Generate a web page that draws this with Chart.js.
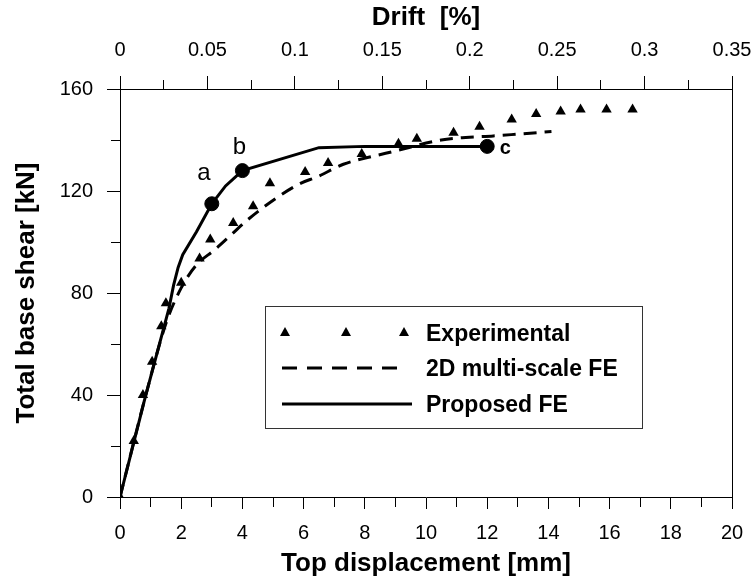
<!DOCTYPE html>
<html>
<head>
<meta charset="utf-8">
<script src="https://cdn.jsdelivr.net/npm/chart.js@4"></script>
<style>
  body { margin: 0; background: #fff; }
  #wrap { width: 756px; height: 582px; }
</style>
</head>
<body>
<div id="wrap"><canvas id="chart" width="756" height="582"></canvas></div>
<script>
// ================= DATA =================
// top displacement [mm] / total base shear [kN]
const expX = [0, 0.45, 0.75, 1.05, 1.35, 1.5, 2.0, 2.6, 2.95, 3.7, 4.35, 4.9, 6.05, 6.8, 7.9, 9.1, 9.7, 10.9, 11.75, 12.8, 13.6, 14.4, 15.05, 15.9, 16.75];
const expY = [0, 22, 40, 53, 67, 76, 84, 93.5, 101, 107.5, 114, 123, 127.5, 131, 134.5, 138.5, 140.5, 142.8, 145.2, 148, 150.2, 151.2, 152, 152, 152];

const msX = [0, 0.8, 1.5, 2.0, 2.5, 3.1, 3.65, 4.15, 5.2, 5.9, 6.45, 7.3, 8.3, 8.9, 10.5, 11.3, 12.2, 13.0, 14.1];
const msY = [0, 38, 68, 82, 91, 97, 103, 108.5, 118, 123, 125.6, 130.5, 133.7, 135.4, 140, 141, 141.6, 142.3, 143.3];

const propX = [0, 0.8, 1.6, 1.75, 1.9, 2.05, 2.5, 3.0, 3.45, 4.0, 6.5, 8.0, 12.0];
const propY = [0, 38, 74, 83, 90, 95, 104, 115, 122, 128, 137, 137.5, 137.5];

const keyLabels = ["a", "b", "c"];
const keyX = [3.0, 4.0, 12.0];
const keyY = [115, 128, 137.5];

const seriesNames = ["Experimental", "2D multi-scale FE", "Proposed FE"];

const pts = (xs, ys) => xs.map((x, i) => ({ x: x, y: ys[i] }));

const tickFont = { family: '"Liberation Sans", Arial', size: 20 };
const titleFont = { family: '"Liberation Sans", Arial', size: 26, weight: "bold" };

// minor ticks: shorter marks drawn with a dash on the same tick line
const minorFromAxis = [9, 100];
const minorFromOuter = [0, 4, 9, 100];
const dashFor = (isMajor, pattern) => c => (c.tick && isMajor(c.tick.value) ? [] : pattern);

const isMajorX = v => Math.abs(v % 2) < 1e-6;
const isMajorDrift = v => Math.round(v * 1000) % 50 === 0;
const isMajorY = v => v % 40 === 0;

// keep the plot box fixed, whatever the edge labels need
const fixBox = (w, h) => s => {
  if (w) s.width = w;
  if (h) s.height = h;
  s.paddingLeft = 0;
  s.paddingRight = 0;
};

// ================= PLUGINS =================
const frame = {
  id: "frame",
  afterDatasetsDraw(chart) {
    const { ctx, chartArea: a } = chart;
    ctx.save();
    ctx.strokeStyle = "#000";
    ctx.lineWidth = 1;
    ctx.beginPath();
    ctx.moveTo(Math.round(a.right) + 0.5, a.top);
    ctx.lineTo(Math.round(a.right) + 0.5, a.bottom);
    ctx.stroke();
    ctx.restore();
  }
};

const keyText = {
  id: "keyText",
  afterDatasetsDraw(chart) {
    const { ctx, scales } = chart;
    const offs = [[-8, -24], [-3, -17], [18, 8]];
    const fonts = ['24px "Liberation Sans", Arial', '24px "Liberation Sans", Arial', 'bold 20px "Liberation Sans", Arial'];
    ctx.save();
    ctx.fillStyle = "#000";
    ctx.textAlign = "center";
    ctx.textBaseline = "alphabetic";
    keyLabels.forEach((l, i) => {
      const px = scales.x.getPixelForValue(keyX[i]);
      const py = scales.y.getPixelForValue(keyY[i]);
      ctx.font = fonts[i];
      ctx.fillText(l, px + offs[i][0], py + offs[i][1]);
    });
    ctx.restore();
  }
};

const boxLegend = {
  id: "boxLegend",
  afterDraw(chart) {
    const ctx = chart.ctx;
    ctx.save();
    ctx.strokeStyle = "#333";
    ctx.lineWidth = 1;
    ctx.strokeRect(265.5, 306.5, 377, 122);
    ctx.fillStyle = "#000";
    [285, 346, 404].forEach(cx => {
      ctx.beginPath();
      ctx.moveTo(cx, 327);
      ctx.lineTo(cx + 5, 336);
      ctx.lineTo(cx - 5, 336);
      ctx.closePath();
      ctx.fill();
    });
    ctx.lineWidth = 3;
    ctx.strokeStyle = "#000";
    ctx.setLineDash([15, 10]);
    ctx.beginPath();
    ctx.moveTo(282, 368);
    ctx.lineTo(397, 368);
    ctx.stroke();
    ctx.setLineDash([]);
    ctx.beginPath();
    ctx.moveTo(282, 404);
    ctx.lineTo(412, 404);
    ctx.stroke();
    ctx.font = 'bold 23px "Liberation Sans", Arial';
    ctx.textBaseline = "alphabetic";
    ctx.fillText(seriesNames[0], 426, 341);
    ctx.fillText(seriesNames[1], 426, 376);
    ctx.fillText(seriesNames[2], 426, 412);
    ctx.restore();
  }
};

// ================= CHART =================
const chart = new Chart(document.getElementById("chart"), {
  type: "scatter",
  data: {
    datasets: [
      {
        label: seriesNames[0],
        data: pts(expX, expY),
        showLine: false,
        pointStyle: "triangle",
        pointRadius: 6,
        backgroundColor: "#000",
        borderColor: "#000",
        borderWidth: 0,
        order: 0
      },
      {
        label: "key",
        data: pts(keyX, keyY),
        showLine: false,
        pointStyle: "circle",
        pointRadius: 7,
        backgroundColor: "#000",
        borderColor: "#000",
        borderWidth: 1,
        order: 1
      },
      {
        label: seriesNames[2],
        data: pts(propX, propY),
        showLine: true,
        borderColor: "#000",
        borderWidth: 3,
        pointRadius: 0,
        tension: 0,
        order: 2
      },
      {
        label: seriesNames[1],
        data: pts(msX, msY),
        showLine: true,
        borderColor: "#000",
        borderWidth: 3,
        borderDash: [13, 8],
        pointRadius: 0,
        cubicInterpolationMode: "monotone",
        order: 3
      }
    ]
  },
  options: {
    responsive: false,
    animation: false,
    devicePixelRatio: 1,
    layout: { padding: { right: 24 } },
    plugins: {
      legend: { display: false },
      tooltip: { enabled: false }
    },
    scales: {
      x: {
        type: "linear",
        position: "bottom",
        min: 0,
        max: 20,
        afterFit: fixBox(0, 85),
        grid: {
          drawOnChartArea: false, color: "#000", tickLength: 12,
          tickBorderDash: dashFor(isMajorX, minorFromAxis)
        },
        border: { color: "#000" },
        ticks: {
          stepSize: 1,
          color: "#000",
          font: tickFont,
          padding: 12,
          maxRotation: 0,
          autoSkip: false,
          callback: v => (isMajorX(v) ? v : "")
        },
        title: {
          display: true,
          text: "Top displacement [mm]",
          color: "#000",
          font: titleFont,
          padding: { top: 0, bottom: 3 }
        }
      },
      x2: {
        type: "linear",
        position: "top",
        min: 0,
        max: 0.35,
        afterFit: fixBox(0, 89),
        grid: {
          drawOnChartArea: false, color: "#000", tickLength: 13,
          tickBorderDash: dashFor(isMajorDrift, minorFromOuter)
        },
        border: { color: "#000" },
        ticks: {
          stepSize: 0.025,
          color: "#000",
          font: tickFont,
          padding: 14,
          maxRotation: 0,
          autoSkip: false,
          callback: v => (isMajorDrift(v) ? String(+v.toFixed(2)) : "")
        },
        title: {
          display: true,
          text: "Drift  [%]",
          color: "#000",
          font: titleFont,
          padding: { top: 2, bottom: 0 }
        }
      },
      y: {
        type: "linear",
        position: "left",
        min: 0,
        max: 160,
        afterFit: s => { s.width = 120; s.paddingTop = 0; s.paddingBottom = 0; },
        grid: {
          drawOnChartArea: false, color: "#000", tickLength: 13,
          tickBorderDash: dashFor(isMajorY, minorFromOuter)
        },
        border: { color: "#000" },
        ticks: {
          stepSize: 20,
          color: "#000",
          font: tickFont,
          padding: 14,
          autoSkip: false,
          callback: v => (isMajorY(v) ? v : "")
        },
        title: {
          display: true,
          text: "Total base shear [kN]",
          color: "#000",
          font: titleFont,
          padding: { top: 11, bottom: 0 }
        }
      }
    }
  },
  plugins: [frame, keyText, boxLegend]
});
</script>
</body>
</html>
